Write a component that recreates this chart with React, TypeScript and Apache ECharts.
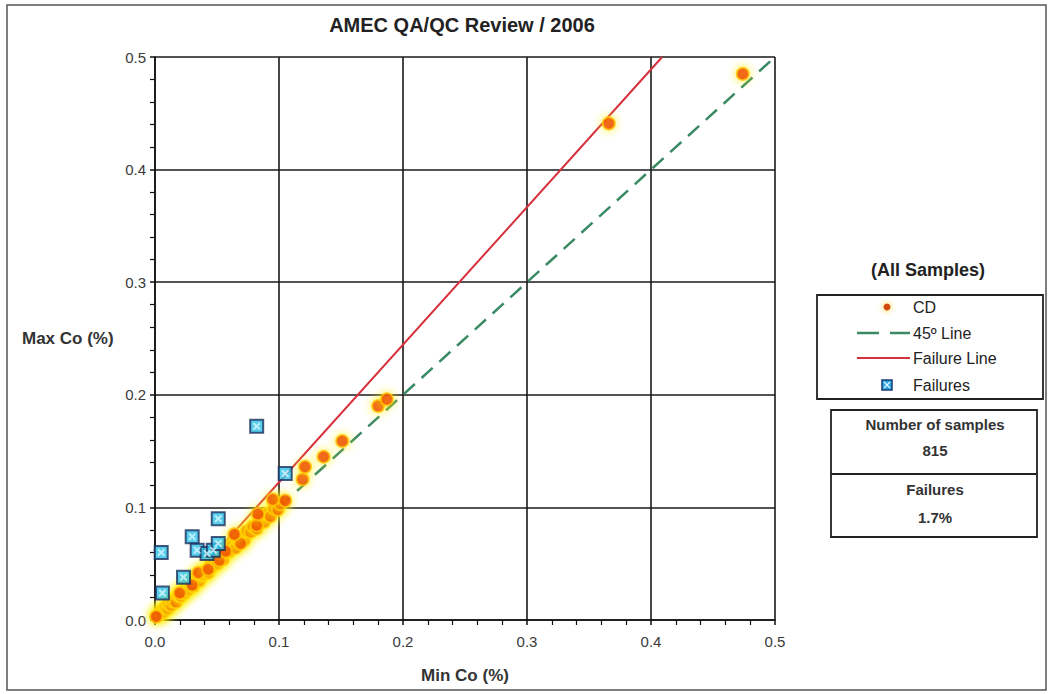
import { useEffect, useRef } from "react";
import * as echarts from "echarts";

const chartTitle = "AMEC QA/QC Review / 2006";
const xAxisName = "Min Co (%)";
const yAxisName = "Max Co (%)";
const legendTitle = "(All Samples)";
const legendLabels = ["CD", "45º Line", "Failure Line", "Failures"];
const sampleLabel = "Number of samples";
const sampleCount = "815";
const failureLabel = "Failures";
const failureRate = "1.7%";

// dense CD duplicates along the 1:1 line (min, max)
const cdDense: [number, number][] = [
  [0.002, 0.004], [0.004, 0.005], [0.005, 0.008], [0.007, 0.007], [0.008, 0.011],
  [0.010, 0.010], [0.011, 0.014], [0.013, 0.013], [0.014, 0.017], [0.016, 0.018],
  [0.017, 0.016], [0.019, 0.022], [0.021, 0.021], [0.022, 0.025], [0.024, 0.024],
  [0.026, 0.029], [0.027, 0.027], [0.029, 0.032], [0.031, 0.030], [0.032, 0.035],
  [0.034, 0.036], [0.036, 0.035], [0.037, 0.041], [0.039, 0.040], [0.041, 0.043],
  [0.043, 0.042], [0.045, 0.049], [0.046, 0.047], [0.048, 0.052], [0.050, 0.050],
  [0.053, 0.055], [0.055, 0.054], [0.058, 0.063], [0.060, 0.061], [0.062, 0.066],
  [0.065, 0.064], [0.067, 0.071], [0.070, 0.072], [0.072, 0.071], [0.074, 0.079],
  [0.077, 0.078], [0.079, 0.083], [0.082, 0.081], [0.085, 0.090], [0.088, 0.087],
  [0.090, 0.094], [0.093, 0.092], [0.096, 0.099], [0.099, 0.098], [0.101, 0.103],
];

// individually visible CD pairs (min, max)
const cdPoints: [number, number][] = [
  [0.001, 0.003], [0.020, 0.024], [0.030, 0.031], [0.035, 0.042], [0.043, 0.045],
  [0.052, 0.053], [0.057, 0.061], [0.069, 0.068], [0.064, 0.076], [0.082, 0.084],
  [0.083, 0.094], [0.095, 0.107], [0.105, 0.106], [0.119, 0.125], [0.121, 0.136],
  [0.136, 0.145], [0.151, 0.159], [0.180, 0.190], [0.187, 0.196], [0.366, 0.441],
  [0.474, 0.485],
];

const failurePoints: [number, number][] = [
  [0.082, 0.172], [0.105, 0.130], [0.051, 0.090], [0.005, 0.060], [0.030, 0.074],
  [0.034, 0.062], [0.042, 0.059], [0.047, 0.062], [0.051, 0.068], [0.023, 0.038],
  [0.006, 0.024],
];

const line45: [number, number][] = [[0, 0], [0.5, 0.5]];
const failureLine: [number, number][] = [[0, 0], [0.409, 0.5]];

const FONT = "'Liberation Sans', Arial, sans-serif";
const xMarkPath =
  "path://M0,0L2,0L5,3L8,0L10,0L10,2L7,5L10,8L10,10L8,10L5,7L2,10L0,10L0,8L3,5L0,2Z";

export default function App() {
  const ref = useRef<HTMLDivElement>(null);
  useEffect(() => {
    if (!ref.current) return;
    const chart = echarts.init(ref.current, null, { renderer: "svg" });
    const axisCommon = {
      type: "value" as const,
      min: 0,
      max: 0.5,
      interval: 0.1,
      axisLine: { show: true, lineStyle: { color: "#111", width: 1.5 } },
      axisTick: { show: true, length: 5, lineStyle: { color: "#111", width: 1.5 } },
      minorTick: { show: true, splitNumber: 5, length: 5, lineStyle: { color: "#111", width: 1.2 } },
      splitLine: { show: true, lineStyle: { color: "#1a1a1a", width: 1.6 } },
      axisLabel: {
        color: "#3a3a3a",
        fontSize: 15,
        fontFamily: FONT,
        formatter: (v: number) => v.toFixed(1),
      },
    };
    const cdStyle = {
      color: "#ec1208",
      borderColor: "#ffc400",
      borderWidth: 2,
      shadowBlur: 10,
      shadowColor: "rgba(255,238,0,1)",
    };
    const legendTextStyle = { fill: "#222", font: `16px ${FONT}` };
    const legX = 913;
    const legY = [307, 333, 358, 385];
    chart.setOption({
      animation: false,
      backgroundColor: "#fff",
      title: {
        text: chartTitle,
        left: 457,
        top: 10,
        textAlign: "center",
        textStyle: { fontSize: 20, fontWeight: "bold", color: "#222", fontFamily: FONT },
      },
      grid: { left: 155, top: 57, width: 620, height: 563, containLabel: false },
      xAxis: {
        ...axisCommon,
        name: xAxisName,
        nameLocation: "middle",
        nameGap: 47,
        nameTextStyle: { fontSize: 17, fontWeight: "bold", color: "#333", fontFamily: FONT },
        axisLabel: { ...axisCommon.axisLabel, margin: 14 },
      },
      yAxis: {
        ...axisCommon,
        name: yAxisName,
        nameLocation: "middle",
        nameRotate: 0,
        nameGap: 133,
        nameTextStyle: { fontSize: 17, fontWeight: "bold", color: "#333", fontFamily: FONT, align: "left", padding: [0, 0, 10, 0] },
        axisLabel: { ...axisCommon.axisLabel, margin: 9 },
      },
      series: [
        {
          name: "45º Line",
          type: "line",
          data: line45,
          symbol: "none",
          lineStyle: { color: "#3a8a63", width: 2.5, type: [15, 9] },
          z: 2,
        },
        {
          name: "Failure Line",
          type: "line",
          data: failureLine,
          symbol: "none",
          lineStyle: { color: "#d6303c", width: 2 },
          z: 2,
        },
        {
          name: "CD",
          type: "scatter",
          data: cdDense,
          symbol: "circle",
          symbolSize: 12,
          itemStyle: cdStyle,
          z: 3,
        },
        {
          name: "CD",
          type: "scatter",
          data: cdPoints,
          symbol: "circle",
          symbolSize: 12,
          itemStyle: cdStyle,
          z: 4,
        },
        {
          name: "Failures",
          type: "scatter",
          data: failurePoints,
          symbol: "rect",
          symbolSize: 13,
          itemStyle: { color: "#2fc3ea", borderColor: "#1b2f5c", borderWidth: 2 },
          z: 5,
        },
        {
          name: "Failures mark",
          type: "scatter",
          data: failurePoints,
          symbol: xMarkPath,
          symbolSize: 7,
          itemStyle: { color: "#d9f5fc" },
          z: 6,
          silent: true,
        },
      ],
      graphic: [
        {
          type: "rect",
          shape: { x: 7, y: 5, width: 1039, height: 685 },
          style: { fill: "none", stroke: "#555", lineWidth: 1.5 },
          silent: true,
        },
        {
          type: "text",
          x: 928,
          y: 270,
          style: { text: legendTitle, fill: "#222", font: `bold 18px ${FONT}`, textAlign: "center", textVerticalAlign: "middle" },
        },
        {
          type: "rect",
          shape: { x: 817, y: 295, width: 226, height: 104 },
          style: { fill: "none", stroke: "#222", lineWidth: 1.8 },
        },
        {
          type: "circle",
          shape: { cx: 887, cy: legY[0], r: 3.5 },
          style: { fill: "#d24a10", shadowBlur: 6, shadowColor: "rgba(255,200,0,0.9)" },
        },
        {
          type: "line",
          shape: { x1: 857, y1: legY[1], x2: 910, y2: legY[1] },
          style: { stroke: "#3a8a63", lineWidth: 2.5, lineDash: [22, 11] },
        },
        {
          type: "line",
          shape: { x1: 857, y1: legY[2], x2: 910, y2: legY[2] },
          style: { stroke: "#d6303c", lineWidth: 2 },
        },
        {
          type: "rect",
          shape: { x: 882, y: legY[3] - 5, width: 10, height: 10 },
          style: { fill: "#2fa6e0", stroke: "#1b3a7a", lineWidth: 1.5 },
        },
        {
          type: "line",
          shape: { x1: 884, y1: legY[3] - 3, x2: 890, y2: legY[3] + 3 },
          style: { stroke: "#d9f5fc", lineWidth: 1.2 },
        },
        {
          type: "line",
          shape: { x1: 890, y1: legY[3] - 3, x2: 884, y2: legY[3] + 3 },
          style: { stroke: "#d9f5fc", lineWidth: 1.2 },
        },
        ...legendLabels.map((t, i) => ({
          type: "text",
          x: legX,
          y: legY[i],
          style: { text: t, ...legendTextStyle, textAlign: "left", textVerticalAlign: "middle" },
        })),
        {
          type: "rect",
          shape: { x: 831, y: 410, width: 206, height: 127 },
          style: { fill: "none", stroke: "#222", lineWidth: 1.8 },
        },
        {
          type: "line",
          shape: { x1: 831, y1: 474, x2: 1037, y2: 474 },
          style: { stroke: "#222", lineWidth: 2 },
        },
        {
          type: "text",
          x: 935,
          y: 424,
          style: { text: sampleLabel, fill: "#333", font: `bold 15px ${FONT}`, textAlign: "center", textVerticalAlign: "middle" },
        },
        {
          type: "text",
          x: 935,
          y: 450,
          style: { text: sampleCount, fill: "#333", font: `bold 15px ${FONT}`, textAlign: "center", textVerticalAlign: "middle" },
        },
        {
          type: "text",
          x: 935,
          y: 489,
          style: { text: failureLabel, fill: "#333", font: `bold 15px ${FONT}`, textAlign: "center", textVerticalAlign: "middle" },
        },
        {
          type: "text",
          x: 935,
          y: 517,
          style: { text: failureRate, fill: "#333", font: `bold 15px ${FONT}`, textAlign: "center", textVerticalAlign: "middle" },
        },
      ],
    });
    return () => chart.dispose();
  }, []);
  return (
    <div
      ref={ref}
      style={{ position: "fixed", left: 0, top: 0, width: 1053, height: 694, background: "#fff" }}
    />
  );
}
